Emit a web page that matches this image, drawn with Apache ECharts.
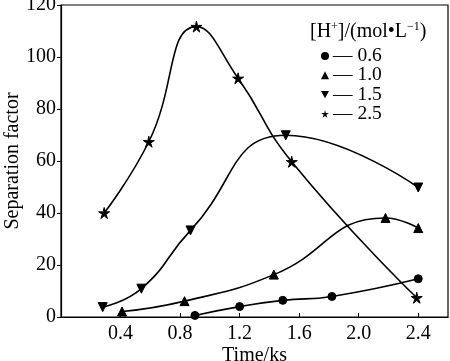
<!DOCTYPE html>
<html>
<head>
<meta charset="utf-8">
<script src="https://cdn.jsdelivr.net/npm/echarts@6/dist/echarts.min.js"></script>
<style>html,body{margin:0;padding:0;background:#fff}#c{width:450px;height:361px}</style>
</head>
<body>
<div id="c"></div>
<script>
const seriesNames = ['0.6', '1.0', '1.5', '2.5'];
const x06 = [0.9, 1.2, 1.49, 1.82, 2.4];
const y06 = [0.6, 4.0, 6.4, 7.9, 14.7];
const x10 = [0.41, 0.83, 1.43, 2.18, 2.4];
const y10 = [2.1, 6.1, 16.3, 38.1, 34.2];
const x15 = [0.28, 0.54, 0.87, 1.51, 2.4];
const y15 = [3.8, 10.9, 33.3, 69.9, 49.8];
const x25 = [0.29, 0.59, 0.91, 1.19, 1.55, 2.39];
const y25 = [40.0, 67.4, 111.7, 91.8, 59.7, 7.4];
const xTicks = [0, 0.4, 0.8, 1.2, 1.6, 2.0, 2.4];
const yTicks = [0, 20, 40, 60, 80, 100, 120];

const FONT = '"Liberation Serif", "DejaVu Serif", serif';
const STAR = 'path://M50,0 L59,38 L98,37 L66,59 L79,95 L50,72 L21,95 L34,59 L2,37 L41,38 Z';
const DOWN = 'path://M0,0 L10,0 L5,9 Z';
const symbols = ['circle', 'triangle', DOWN, STAR];
const symSizes = [8, 9, 9, 11];
const xs = [x06, x10, x15, x25];
const ys = [y06, y10, y15, y25];

const chart = echarts.init(document.getElementById('c'), null, {renderer: 'canvas'});
chart.setOption({
  animation: false,
  backgroundColor: '#fff',
  grid: {left: 61, right: 2, top: 5, bottom: 44, containLabel: false, outerBoundsMode: 'none',
    show: true, borderColor: '#000', borderWidth: 1.2},
  title: {
    text: '[H{s|+}]/(mol•L{s|−1})',
    left: 305, top: 16,
    textStyle: {fontFamily: FONT, fontSize: 20, fontWeight: 'normal', color: '#000',
      rich: {s: {fontFamily: FONT, fontSize: 12, verticalAlign: 'top', padding: [0, 0, 9, 0], color: '#000'}}}
  },
  legend: {
    orient: 'vertical', left: 316, top: 41,
    itemWidth: 8, itemHeight: 8, itemGap: -0.7,
    data: seriesNames.map((n, i) => ({name: n, icon: symbols[i]})),
    formatter: n => '— ' + n,
    textStyle: {fontFamily: FONT, fontSize: 19.5, color: '#000', padding: [0, 0, 0, -1]}
  },
  xAxis: {
    type: 'value', min: 0, max: 2.6, interval: 0.4,
    name: 'Time/ks', nameLocation: 'middle', nameGap: 29, nameMoveOverlap: false,
    nameTextStyle: {fontFamily: FONT, fontSize: 20, color: '#000'},
    axisLine: {show: true, onZero: false, lineStyle: {color: '#000', width: 1.2}},
    axisTick: {show: true, inside: true, length: 4, lineStyle: {color: '#000'}},
    axisLabel: {showMinLabel: false, showMaxLabel: false, fontFamily: FONT, fontSize: 20, color: '#000', margin: 7,
      formatter: v => xTicks.includes(Math.round(v * 10) / 10) ? v.toFixed(1) : ''},
    splitLine: {show: false}
  },
  yAxis: {
    type: 'value', min: 0, max: 120, interval: 20,
    name: 'Separation factor', nameLocation: 'middle', nameGap: 38, nameMoveOverlap: false,
    nameTextStyle: {fontFamily: FONT, fontSize: 20, color: '#000'},
    axisLine: {show: true, lineStyle: {color: '#000', width: 1.2}},
    axisTick: {show: true, inside: false, length: 4, lineStyle: {color: '#000'}},
    axisLabel: {fontFamily: FONT, fontSize: 20, color: '#000', margin: 5,
      formatter: v => yTicks.includes(v) ? String(v) : ''},
    splitLine: {show: false}
  },
  series: seriesNames.map((n, i) => ({
    name: n, type: 'line', smooth: 0.5,
    data: xs[i].map((x, j) => [x, ys[i][j]]),
    symbol: symbols[i], symbolSize: symSizes[i],
    lineStyle: {color: '#000', width: 1.6},
    itemStyle: {color: '#000', borderColor: '#000'},
    z: 3
  }))
});
</script>
</body>
</html>
